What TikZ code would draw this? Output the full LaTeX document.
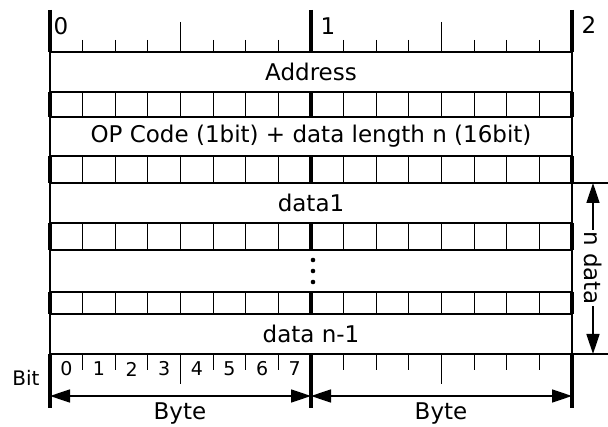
\documentclass[tikz,border=0pt]{standalone}
\usepackage{fontspec}
\setmainfont{DejaVu Sans}
\usetikzlibrary{positioning, arrows.meta, calc}

\begin{document}
\begin{tikzpicture}[x=1pt, y=-1pt,
    field/.style={draw, line width=1.6pt},
    bitline/.style={line width=1.1pt},
    nibline/.style={line width=1.8pt},
    bytebar/.style={line width=4pt},
    dimarrow/.style={line width=1.6pt, {Triangle[length=20pt,width=13pt]}-{Triangle[length=20pt,width=13pt]}},
    fieldtext/.style={font=\fontsize{23}{26}\selectfont, inner sep=0pt},
    bittext/.style={font=\fontsize{19}{22}\selectfont, inner sep=0pt}]
  \useasboundingbox (0,0) rectangle (608,427);

  % Wide rows
  \foreach \top/\bot/\name/\txt in {52/92/addr/Address,
      117/156/opcode/{OP Code (1bit) + data length n (16bit)},
      183/223/dataone/data1, 250/292/dotrow/{},
      314/354/datalast/data n-1}
  {
    \draw[field] (50,\top) rectangle (572,\bot);
    \node[fieldtext] (\name) at (311,{(\top+\bot)/2}) {\txt};
  }
  \foreach \d in {260,271,282}
  \fill (313,\d) circle (2.3pt);

  % Bit cell rows
  \foreach \top/\bot in {92/117, 156/183, 223/250, 292/314}
  {
    \draw[field] (50,\top) rectangle (572,\bot);
    \foreach \k in {1,2,3,5,6,7,9,10,11,13,14,15}
    \draw[bitline] ({50+\k*32.625},\top) -- ({50+\k*32.625},\bot);
    \foreach \k in {4,12}
    \draw[nibline] ({50+\k*32.625},\top) -- ({50+\k*32.625},\bot);
  }

  % Ticks (top and bit row)
  \foreach \k in {1,2,3,5,6,7,9,10,11,13,14,15}
  {
    \draw[bitline] ({50+\k*32.625},40) -- ({50+\k*32.625},52);
    \draw[bitline] ({50+\k*32.625},354) -- ({50+\k*32.625},370);
  }
  \foreach \k in {4,12}
  {
    \draw[nibline] ({50+\k*32.625},22) -- ({50+\k*32.625},52);
    \draw[nibline] ({50+\k*32.625},354) -- ({50+\k*32.625},384);
  }

  % Byte bars
  \foreach \k in {0,8,16}
  \foreach \top/\bot in {10/52, 92/117, 156/183, 223/250, 292/314, 354/408}
  \draw[bytebar] ({50+\k*32.625},\top) -- ({50+\k*32.625},\bot);

  % Labels
  \node[fieldtext] (byte0) at (61,26) {0};
  \node[fieldtext] (byte1) at (328,26) {1};
  \node[fieldtext] (byte2) at (589,25) {2};
  \foreach \k in {0,...,7}
  \node[bittext] (bit\k) at ({50+(\k+0.5)*32.625},369) {\k};
  \node[font=\fontsize{20}{22}\selectfont, inner sep=0pt] (bitlabel) at (26,378) {Bit};

  % Byte arrows
  \coordinate (b0) at (50,396);
  \coordinate (b1) at (311,396);
  \coordinate (b2) at (572,396);
  \draw[dimarrow] (b0) -- (b1);
  \draw[dimarrow] (b1) -- (b2);
  \node[fieldtext] (byteA) at (180,414) {Byte};
  \node[fieldtext] (byteB) at (441,414) {Byte};

  % n data span
  \coordinate (r0) at (572,183);
  \coordinate (r1) at (608,183);
  \coordinate (r2) at (572,354);
  \coordinate (r3) at (608,354);
  \draw[field] (r0) -- (r1);
  \draw[field] (r2) -- (r3);
  \coordinate (n0) at (593,183);
  \coordinate (n1) at (593,354);
  \draw[dimarrow] (n0) -- (n1);
  \node[fieldtext, fill=white, inner sep=1pt, rotate=-90] (ndata) at (593,268) {n data};
\end{tikzpicture}
\end{document}
